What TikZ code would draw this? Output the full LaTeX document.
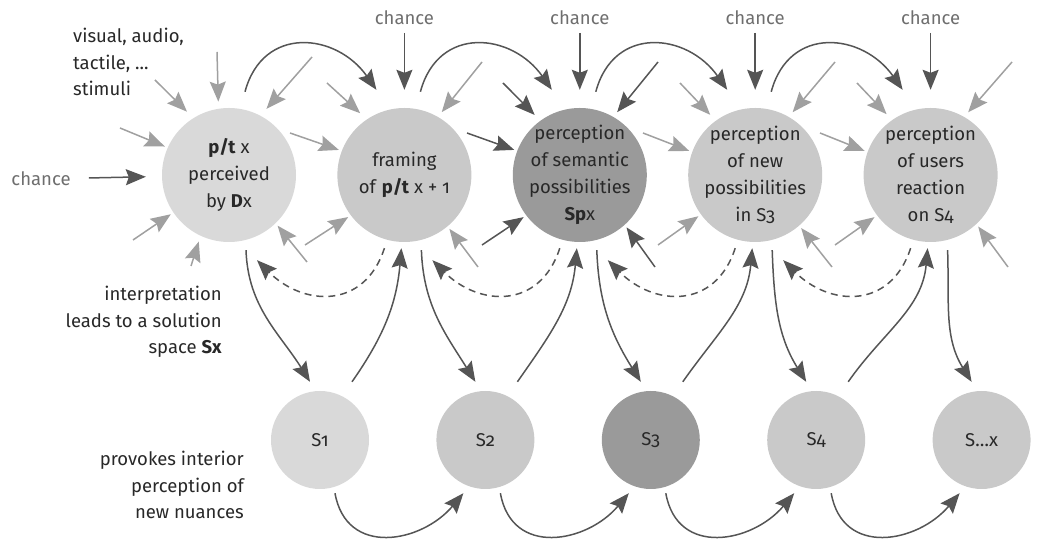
\documentclass[tikz,border=0pt]{standalone}
\usepackage{fontspec}
\setmainfont{Fira Sans}[Numbers=OldStyle]
\usetikzlibrary{arrows.meta, positioning, calc}
\definecolor{perceptLight}{RGB}{217, 217, 217}
\definecolor{perceptMid}{RGB}{201, 201, 201}
\definecolor{perceptDark}{RGB}{154, 154, 154}
\definecolor{arrowDark}{RGB}{85, 85, 85}
\definecolor{arrowLight}{RGB}{160, 160, 160}
\definecolor{textDark}{RGB}{40, 40, 40}
\definecolor{chanceGray}{RGB}{110, 110, 110}

\begin{document}
\begin{tikzpicture}[
        x=1pt, y=1pt,
        node distance=41pt,
        bubble/.style={circle, fill=perceptMid, minimum size=134pt, inner sep=-16pt, align=center, text=textDark, font=\fontsize{18.5}{27}\selectfont},
        sol/.style={circle, fill=perceptMid, minimum size=98pt, inner sep=-8pt, text=textDark, font=\fontsize{18.5}{27}\selectfont},
        lbl/.style={inner sep=0pt, text=textDark, font=\fontsize{18.5}{26.5}\selectfont},
        chancelbl/.style={inner sep=0pt, text=chanceGray, font=\fontsize{18.5}{26.5}\selectfont},
        arrow/.style={-{Stealth[length=20pt, width=16pt, inset=3pt]}, line width=1.5pt, arrowDark},
        stub/.style={arrow, arrowLight, shorten >=3pt},
        stubdark/.style={arrow, shorten >=3pt},
        back/.style={arrow, dash pattern=on 7pt off 5pt}
    ]
        \useasboundingbox (0,0) rectangle (1038,540);

        % Perception steps
        \node[bubble, fill=perceptLight] (pt) at (229,365) {\textbf{p/t} x\\perceived\\by \textbf{D}x};
        \node[bubble, right=of pt] (fr) {framing\\of \textbf{p/t} x + 1};
        \node[bubble, fill=perceptDark, right=of fr] (sem) {perception\\of semantic\\possibilities\\\textbf{Sp}x};
        \node[bubble, right=of sem] (np) {perception\\of new\\possibilities\\in S3};
        \node[bubble, right=of np] (ur) {perception\\of users\\reaction\\on S4};

        % Solutions
        \node[sol, fill=perceptLight] (s1) at (320,100) {S1};
        \node[sol, right=67pt of s1] (s2) {S2};
        \node[sol, fill=perceptDark, right=67pt of s2] (s3) {S3};
        \node[sol, right=67pt of s3] (s4) {S4};
        \node[sol, right=67pt of s4] (sx) {S…x};

        % Labels
        \node[lbl, align=left, anchor=west] (stim) at (73,478) {visual, audio,\\tactile, ...\\stimuli};
        \node[lbl, align=right, anchor=east] (interp) at (222,218) {interpretation\\leads to a solution\\space \textbf{Sx}};
        \node[lbl, align=right, anchor=east] (prov) at (244,55) {provokes interior\\perception of\\new nuances};
        \node[chancelbl, left=91pt of pt, yshift=-4pt] (ch0) {chance};
        \node[chancelbl, above=83pt of fr] (ch1) {chance};
        \node[chancelbl, above=83pt of sem] (ch2) {chance};
        \node[chancelbl, above=83pt of np] (ch3) {chance};
        \node[chancelbl, above=83pt of ur] (ch4) {chance};

        % Chance
        \draw[arrow, shorten <=18pt, shorten >=16pt] (ch0) -- (pt);
        \draw[arrow, shorten <=8pt, shorten >=18pt] (ch1) -- (fr);
        \draw[arrow, shorten <=8pt, shorten >=18pt] (ch2) -- (sem);
        \draw[arrow, shorten <=8pt, shorten >=18pt] (ch3) -- (np);
        \draw[arrow, shorten <=8pt, shorten >=18pt] (ch4) -- (ur);

        % Stimuli
        \coordinate (pt-a) at (155,460);
        \coordinate (pt-b) at (217,488);
        \coordinate (pt-c) at (312,483);
        \coordinate (pt-d) at (120,412);
        \coordinate (pt-e) at (133,300);
        \coordinate (pt-f) at (191,274);
        \coordinate (pt-g) at (307,278);
        \coordinate (fr-a) at (327,457);
        \coordinate (fr-b) at (482,478);
        \coordinate (fr-c) at (290,407);
        \coordinate (fr-d) at (305,295);
        \coordinate (fr-e) at (478,273);
        \coordinate (sem-a) at (503,457);
        \coordinate (sem-b) at (658,478);
        \coordinate (sem-c) at (467,407);
        \coordinate (sem-d) at (482,295);
        \coordinate (sem-e) at (655,273);
        \coordinate (np-a) at (680,457);
        \coordinate (np-b) at (835,478);
        \coordinate (np-c) at (643,407);
        \coordinate (np-d) at (658,295);
        \coordinate (np-e) at (832,273);
        \coordinate (ur-a) at (857,457);
        \coordinate (ur-b) at (1012,478);
        \coordinate (ur-c) at (820,407);
        \coordinate (ur-d) at (835,295);
        \coordinate (ur-e) at (1008,273);

        \draw[stub, shorten >=9pt] (pt-a) -- (pt.122);
        \draw[stub, shorten >=7pt] (pt-b) -- (pt.99);
        \draw[stub, shorten >=9pt] (pt-c) -- (pt.62);
        \draw[stub] (pt-d) -- (pt.156);
        \draw[stub] (pt-e) -- (pt.214);
        \draw[stub, shorten >=6pt] (pt-f) -- (pt.245);
        \draw[stub] (pt-g) -- (pt.314);
        \draw[stub, shorten >=9pt] (fr-a) -- (fr.124);
        \draw[stub, shorten >=6pt] (fr-b) -- (fr.60);
        \draw[stub] (fr-c) -- (fr.159);
        \draw[stub] (fr-d) -- (fr.217);
        \draw[stub] (fr-e) -- (fr.310);
        \draw[stubdark, shorten >=8pt] (sem-a) -- (sem.126);
        \draw[stubdark, shorten >=6pt] (sem-b) -- (sem.60);
        \draw[stubdark] (sem-c) -- (sem.159);
        \draw[stubdark] (sem-d) -- (sem.217);
        \draw[stubdark] (sem-e) -- (sem.312);
        \draw[stub, shorten >=8pt] (np-a) -- (np.126);
        \draw[stub, shorten >=6pt] (np-b) -- (np.60);
        \draw[stub] (np-c) -- (np.160);
        \draw[stub] (np-d) -- (np.216);
        \draw[stub] (np-e) -- (np.311);
        \draw[stub, shorten >=8pt] (ur-a) -- (ur.125);
        \draw[stub, shorten >=6pt] (ur-b) -- (ur.60);
        \draw[stub] (ur-c) -- (ur.160);
        \draw[stub] (ur-d) -- (ur.217);
        \draw[stub] (ur-e) -- (ur.313);

        % Forward over the top
        \draw[arrow] ([shift={(16,16)}]pt.north) to[out=75, in=125, looseness=1.35] ([shift={(-28,18)}]fr.north);
        \draw[arrow] ([shift={(16,16)}]fr.north) to[out=75, in=125, looseness=1.35] ([shift={(-28,18)}]sem.north);
        \draw[arrow] ([shift={(16,16)}]sem.north) to[out=75, in=125, looseness=1.35] ([shift={(-28,18)}]np.north);
        \draw[arrow] ([shift={(16,16)}]np.north) to[out=75, in=125, looseness=1.35] ([shift={(-28,18)}]ur.north);

        % Down to the solutions
        \draw[arrow] ([shift={(17,-8)}]pt.south) to[out=-88, in=122] ([shift={(-10,9)}]s1.north);
        \draw[arrow] ([shift={(17,-8)}]fr.south) to[out=-88, in=122] ([shift={(-10,9)}]s2.north);
        \draw[arrow] ([shift={(17,-8)}]sem.south) to[out=-88, in=122] ([shift={(-10,9)}]s3.north);
        \draw[arrow] ([shift={(17,-8)}]np.south) to[out=-88, in=122] ([shift={(-10,9)}]s4.north);
        \draw[arrow] ([shift={(17,-8)}]ur.south) to[out=-88, in=122] ([shift={(-10,9)}]sx.north);

        % Up to the next step
        \draw[arrow] ([shift={(32,9)}]s1.north) to[out=55, in=-95] ([shift={(-3,-6)}]fr.south);
        \draw[arrow] ([shift={(32,9)}]s2.north) to[out=55, in=-95] ([shift={(-3,-6)}]sem.south);
        \draw[arrow] ([shift={(32,9)}]s3.north) to[out=55, in=-95] ([shift={(-3,-6)}]np.south);
        \draw[arrow] ([shift={(32,9)}]s4.north) to[out=55, in=-95] ([shift={(-3,-6)}]ur.south);

        % Feedback
        \draw[back] ([shift={(-20,-6)}]fr.south) to[out=252, in=-45, looseness=1.3] ([shift={(28,-18)}]pt.south);
        \draw[back] ([shift={(-20,-6)}]sem.south) to[out=252, in=-45, looseness=1.3] ([shift={(28,-18)}]fr.south);
        \draw[back] ([shift={(-20,-6)}]np.south) to[out=252, in=-45, looseness=1.3] ([shift={(28,-18)}]sem.south);
        \draw[back] ([shift={(-20,-6)}]ur.south) to[out=252, in=-45, looseness=1.3] ([shift={(28,-18)}]np.south);

        % Nuances
        \draw[arrow] ([shift={(15,-4)}]s1.south) to[out=-80, in=230, looseness=1.3] ([shift={(-22,-4)}]s2.south);
        \draw[arrow] ([shift={(15,-4)}]s2.south) to[out=-80, in=230, looseness=1.3] ([shift={(-22,-4)}]s3.south);
        \draw[arrow] ([shift={(15,-4)}]s3.south) to[out=-80, in=230, looseness=1.3] ([shift={(-22,-4)}]s4.south);
        \draw[arrow] ([shift={(15,-4)}]s4.south) to[out=-80, in=230, looseness=1.3] ([shift={(-22,-4)}]sx.south);
    \end{tikzpicture}
\end{document}
